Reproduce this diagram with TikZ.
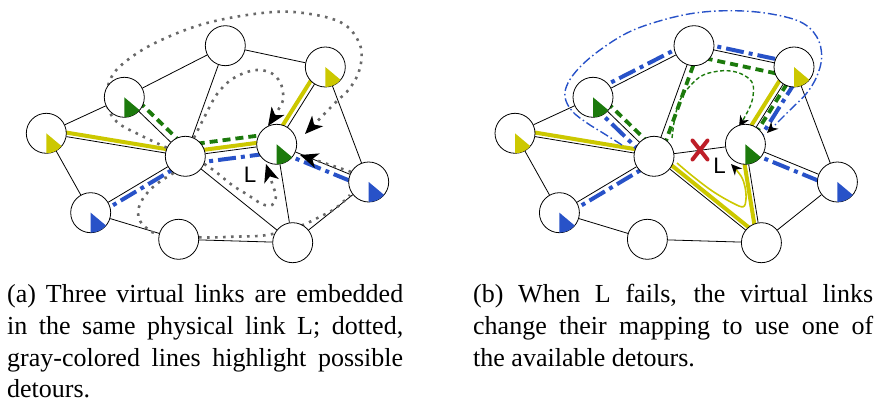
\documentclass[tikz,border=0pt]{standalone}
\usepackage{fontspec}
\setmainfont{Liberation Serif}
\newfontfamily\lsans{Liberation Sans}
\usetikzlibrary{calc,arrows.meta}
\pgfdeclarelayer{bg}
\pgfsetlayers{bg,main}
\definecolor{vyel}{RGB}{204,200,0}
\definecolor{vgrn}{RGB}{28,122,12}
\definecolor{vblu}{RGB}{40,82,200}
\definecolor{dgray}{RGB}{105,105,105}
\definecolor{xred}{RGB}{190,30,40}
\tikzset{
  pnode/.style={circle,draw,line width=0.8pt,fill=white,minimum size=40pt,inner sep=0pt},
  phys/.style={line width=0.8pt,black},
  vy/.style={line width=4pt,vyel},
  vg/.style={line width=3.8pt,vgrn,dash pattern=on 8pt off 5pt},
  vb/.style={line width=4pt,vblu,dash pattern=on 18pt off 5pt on 4pt off 5pt},
  detour/.style={line width=2.6pt,dgray,dash pattern=on 2.6pt off 5.4pt},
  bigtip/.style={-{Stealth[length=18pt,width=15pt,inset=5pt,color=black]}},
  smalltip/.style={-{Stealth[length=11pt,width=10pt,inset=3.5pt,color=black]}},
  tblue/.style={line width=1.4pt,vblu,dash pattern=on 9pt off 3pt on 1.5pt off 3pt},
  tgreen/.style={line width=1.4pt,vgrn,dash pattern=on 4pt off 2.5pt},
  tyel/.style={line width=1.6pt,vyel},
  redx/.style={line width=4pt,xred,line cap=round},
  lbl/.style={font=\lsans\fontsize{22.4}{22.4}\selectfont,inner sep=0pt},
  capt/.style={anchor=base west,inner sep=0pt,font=\fontsize{26}{31.6}\selectfont},
}
\newcommand\vlink[4]{\draw[#1] ($(#2)!#4!90:(#3)$) -- ($(#3)!#4!-90:(#2)$);}
\newcommand\vwedge[2]{\fill[#2] (#1.center) -- ++(0,20) arc[start angle=90,end angle=40,radius=20] -- cycle;}
\newcommand\mknodes[1]{%
  \node[pnode] (#1A) at (46.3,133.3) {};
  \node[pnode] (#1B) at (124.3,97.3) {};
  \node[pnode] (#1C) at (225.3,45.7) {};
  \node[pnode] (#1D) at (325.3,67) {};
  \node[pnode] (#1E) at (185.3,156.3) {};
  \node[pnode] (#1F) at (276.7,144.3) {};
  \node[pnode] (#1G) at (368.7,182) {};
  \node[pnode] (#1H) at (90.7,212.7) {};
  \node[pnode] (#1I) at (178.7,239.3) {};
  \node[pnode] (#1J) at (292.7,242.7) {};
  \vwedge{#1A}{vyel}
  \vwedge{#1D}{vyel}
  \vwedge{#1B}{vgrn}
  \vwedge{#1F}{vgrn}
  \vwedge{#1H}{vblu}
  \vwedge{#1G}{vblu}
}
\newcommand\mkedges[1]{%
  \foreach \u/\v in {A/B,A/E,A/H,B/C,B/E,C/E,C/D,D/F,D/G,E/F,E/H,E/J,F/G,F/J,G/J,H/I,I/J}
    {\draw[phys] (#1\u) -- (#1\v);}
}
\begin{document}
\begin{tikzpicture}[x=1pt,y=-1pt]
\useasboundingbox (0,0) rectangle (878,403);
\mknodes{l}
\begin{scope}[shift={(468.7,0)}]
\mknodes{r}
\end{scope}
\begin{pgfonlayer}{bg}
\mkedges{l}
\mkedges{r}
% virtual links (a)
\vlink{vy}{lA}{lE}{4pt}
\vlink{vy}{lE}{lF}{4pt}
\vlink{vy}{lF}{lD}{5pt}
\vlink{vg}{lB}{lE}{7pt}
\vlink{vg}{lE}{lF}{11pt}
\vlink{vb}{lH}{lE}{-5pt}
\vlink{vb}{lE}{lF}{-8pt}
\vlink{vb}{lF}{lG}{-6pt}
% detours (a)
\draw[detour,bigtip] plot[smooth,tension=0.6] coordinates {(lE.155) (140,135) (117,122) (107,104) (110,80) (125,62) (157,42) (207,23) (267,12.5) (307,13.5) (343,23.5) (360,45) (360,68) (350,88) (334,104) (305,134)};
\draw[detour,bigtip] plot[smooth,tension=0.6] coordinates {(lE.65) (208,110) (215,97) (223,87) (233,78.5) (247,72) (260,70) (272,73.5) (280,82) (283,93) (282,103) (268,126)};
\draw[detour,bigtip] (lG.150) -- (300,155);
\draw[detour,bigtip] plot[smooth,tension=0.6] coordinates {(lE.-22) (216,172) (232,185) (248,195) (262,204) (272,205) (276,196) (273,186) (266,164)};
\draw[detour] plot[smooth,tension=0.6] coordinates {(lE.-125) (158,183) (148,192) (141,202) (138,212) (140,221) (147,228.5) (157,233.3) (200,237.3) (233,236.7) (267,235) (300,226) (320,216.7) (333,210) (343,202) (350,195)};
% virtual links (b)
\vlink{vy}{rA}{rE}{4pt}
\vlink{vy}{rE}{rJ}{4pt}
\vlink{vy}{rJ}{rF}{4pt}
\vlink{vy}{rF}{rD}{5pt}
\vlink{vg}{rB}{rE}{6pt}
\vlink{vg}{rE}{rC}{-6pt}
\vlink{vg}{rC}{rD}{-10pt}
\vlink{vg}{rF}{rD}{-3pt}
\vlink{vb}{rH}{rE}{-5pt}
\vlink{vb}{rB}{rE}{-6pt}
\vlink{vb}{rB}{rC}{5pt}
\vlink{vb}{rC}{rD}{4pt}
\vlink{vb}{rF}{rD}{-9pt}
\vlink{vb}{rF}{rG}{-6pt}
% detours (b)
\draw[tblue,smalltip] plot[smooth,tension=0.6] coordinates {(622,145) (603,133) (587,123) (572,111) (565,97) (568,83) (580,67) (600,50) (627,33) (657,21.7) (693,13.3) (730,10.7) (767,13.3) (800,21.7) (816.7,36.7) (821.7,56.7) (816.7,76.7) (806,94) (790,110) (767,133)};
\draw[tgreen,smalltip] plot[smooth,tension=0.6] coordinates {(672,138) (675,117) (680,100) (690,86) (703.3,75) (723.3,70.7) (740,73.3) (751.7,81.7) (753.3,93.3) (750,106.7) (739,127)};
\draw[tyel,smalltip] plot[smooth,tension=0.6] coordinates {(677,163) (693.3,176.7) (713.3,191.7) (733.3,203.3) (743.3,206.7) (746,199) (745,187) (741,176) (731,164)};
\end{pgfonlayer}
% failure mark and labels
\node[inner sep=0pt,minimum size=0pt] (xmark) at (700,150) {};
\draw[redx] ($(xmark)+(-7.5,-9.5)$) -- ($(xmark)+(7.5,9.5)$);
\draw[redx] ($(xmark)+(7.5,-9.5)$) -- ($(xmark)+(-7.5,9.5)$);
\node[lbl] (lL) at (250,174.3) {L};
\node[lbl] (rL) at (719.5,165.8) {L};
% captions
\node[capt] (ca1) at (7,303) {\makebox[396pt][s]{(a) Three virtual links are embedded}};
\node[capt] (ca2) at (7,334.6) {\makebox[396pt][s]{in the same physical link L; dotted,}};
\node[capt] (ca3) at (7,366.2) {\makebox[396pt][s]{gray-colored lines highlight possible}};
\node[capt] (ca4) at (7,397.8) {detours.};
\node[capt] (cb1) at (473,303) {\makebox[400pt][s]{(b) When L fails, the virtual links}};
\node[capt] (cb2) at (473,334.6) {\makebox[400pt][s]{change their mapping to use one of}};
\node[capt] (cb3) at (473,366.2) {the available detours.};
\end{tikzpicture}
\end{document}
